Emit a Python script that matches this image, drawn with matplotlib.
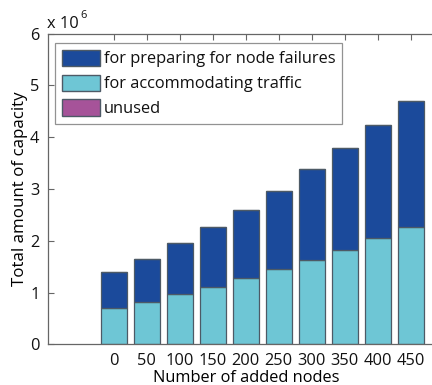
import matplotlib
matplotlib.use("Agg")
import matplotlib.pyplot as plt
from matplotlib.patches import Patch

# Data
added_nodes = [0, 50, 100, 150, 200, 250, 300, 350, 400, 450]
accommodating = [0.695e6, 0.823e6, 0.965e6, 1.112e6, 1.286e6, 1.454e6, 1.627e6, 1.826e6, 2.046e6, 2.259e6]
preparing = [0.705e6, 0.824e6, 0.985e6, 1.152e6, 1.314e6, 1.516e6, 1.751e6, 1.974e6, 2.187e6, 2.438e6]
unused = [0, 0, 0, 0, 0, 0, 0, 0, 0, 0]
series_labels = ["for preparing for node failures", "for accommodating traffic", "unused"]

c_prep = "#1B4A9B"
c_acc = "#6EC6D5"
c_unused = "#A65399"
edge = "#4d5a66"

plt.rcParams["font.family"] = ["Open Sans", "DejaVu Sans"]
plt.rcParams["text.color"] = "#111111"

fs = 11.8

fig = plt.figure(figsize=(4.32, 3.85), dpi=100)
ax = fig.add_axes([0.1104, 0.1057, 0.917, 0.807])

w = 40
ax.bar(added_nodes, accommodating, width=w, color=c_acc, edgecolor=edge, linewidth=0.9, zorder=2)
bottom2 = accommodating
ax.bar(added_nodes, preparing, width=w, bottom=bottom2, color=c_prep, edgecolor=edge, linewidth=0.9, zorder=2)
bottom3 = [a + b for a, b in zip(accommodating, preparing)]
ax.bar(added_nodes, unused, width=w, bottom=bottom3, color=c_unused, edgecolor=edge, linewidth=0.9, zorder=2)

ax.set_xlim(-100, 500)
ax.set_ylim(0, 6e6)
ax.set_xticks(added_nodes)
ax.set_xticklabels([str(v) for v in added_nodes])
yt = [0, 1e6, 2e6, 3e6, 4e6, 5e6, 6e6]
ax.set_yticks(yt)
ax.set_yticklabels([str(int(v / 1e6)) for v in yt])

for s in ax.spines.values():
    s.set_color("#666666")
    s.set_linewidth(0.9)
ax.spines["right"].set_visible(False)

ax.tick_params(axis="both", direction="in", length=4, color="#666666",
               labelsize=fs, labelcolor="#111111", top=True, right=False)
ax.tick_params(axis="x", pad=6)
ax.tick_params(axis="y", pad=6)

ax.set_xlabel("Number of added nodes", fontsize=fs, labelpad=1)
ax.set_ylabel("Total amount of capacity", fontsize=12.2, labelpad=1)

fig.text(47 / 432, 1 - 28 / 385, "x 10", fontsize=fs, ha="left", va="baseline")
fig.text(80 / 432, 1 - 18 / 385, "6", fontsize=8, ha="left", va="baseline")

handles = [Patch(facecolor=c_prep, edgecolor=edge),
           Patch(facecolor=c_acc, edgecolor=edge),
           Patch(facecolor=c_unused, edgecolor=edge)]
leg = ax.legend(handles, series_labels, loc="upper left",
                bbox_to_anchor=(0.019, 0.970), fontsize=fs,
                frameon=True, fancybox=False, edgecolor="#777777",
                handlelength=2.3, handleheight=1.15, handletextpad=0.25,
                labelspacing=0.43, borderpad=0.42, borderaxespad=0.0)
leg.get_frame().set_linewidth(0.9)

fig.savefig("out.png", dpi=100)
